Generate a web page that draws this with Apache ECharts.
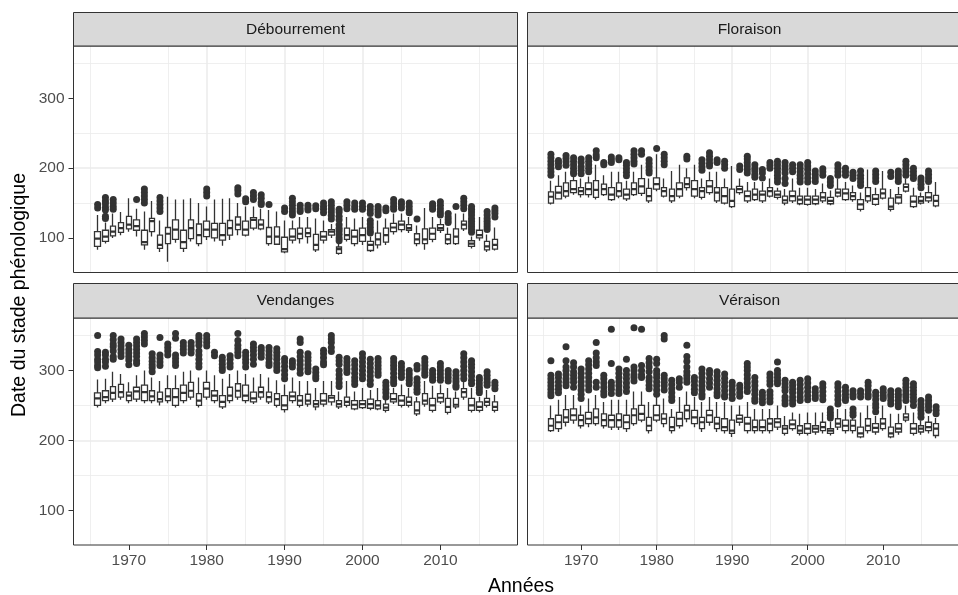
<!DOCTYPE html>
<html lang="fr">
<head>
<meta charset="UTF-8">
<title>Stades phénologiques</title>
<script src="https://cdn.jsdelivr.net/npm/echarts@6/dist/echarts.min.js"></script>
<style>
  * { margin: 0; padding: 0 }
  html, body { width: 100%; height: 100%; background: #fff; }
  #main { width: 958px; height: 595px; }
</style>
</head>
<body>
<div id="main"></div>
<script type="text/javascript">
// années
var years = [1966, 1967, 1968, 1969, 1970, 1971, 1972, 1973, 1974, 1975, 1976, 1977, 1978,
  1979, 1980, 1981, 1982, 1983, 1984, 1985, 1986, 1987, 1988, 1989, 1990, 1991, 1992, 1993,
  1994, 1995, 1996, 1997, 1998, 1999, 2000, 2001, 2002, 2003, 2004, 2005, 2006, 2007, 2008,
  2009, 2010, 2011, 2012, 2013, 2014, 2015, 2016, 2017];

// [moustache basse, Q1, médiane, Q3, moustache haute] par année
var debourrement = [
  [83, 88, 99, 109, 133], [92, 95, 102, 111, 122], [100, 103, 109, 117, 135], [104, 108, 114, 122, 137],
  [109, 113, 119, 131, 157], [102, 111, 117, 126, 142], [83, 90, 94, 111, 138], [102, 109, 124, 128, 153],
  [80, 85, 90, 104, 125], [66, 92, 106, 115, 159], [93, 98, 112, 126, 155], [80, 85, 94, 111, 155],
  [95, 99, 114, 126, 157], [88, 92, 104, 120, 150], [97, 102, 112, 124, 145], [95, 100, 112, 121, 155],
  [89, 97, 104, 121, 156], [97, 104, 114, 125, 157], [104, 112, 119, 130, 150], [102, 104, 112, 124, 145],
  [111, 114, 126, 129, 145], [111, 113, 119, 126, 142], [89, 92, 102, 115, 140], [90, 91, 102, 116, 138],
  [78, 80, 84, 101, 125], [92, 97, 102, 113, 125], [92, 99, 106, 114, 130], [92, 102, 107, 114, 130],
  [80, 83, 90, 105, 128], [92, 97, 102, 109, 125], [100, 104, 109, 112, 120], [76, 78, 84, 87, 92],
  [95, 98, 104, 114, 130], [88, 92, 102, 111, 128], [90, 95, 104, 114, 130], [80, 82, 90, 95, 102],
  [85, 90, 98, 107, 125], [90, 94, 104, 114, 128], [105, 109, 115, 121, 135], [108, 112, 119, 124, 135],
  [107, 111, 114, 119, 130], [88, 92, 98, 106, 118], [83, 92, 98, 113, 143], [94, 98, 106, 114, 130],
  [107, 111, 114, 119, 127], [90, 92, 98, 105, 115], [90, 92, 102, 113, 135], [110, 113, 119, 124, 135],
  [85, 88, 92, 96, 102], [96, 100, 104, 111, 130], [80, 83, 88, 95, 105], [82, 84, 90, 98, 115]
];
var debourrementOut = [
  [143, 148], [158, 153, 149, 144, 140, 131, 128], [155, 150, 145, 141], [],
  [], [155], [170, 165, 160, 155, 150], [],
  [158, 153, 148, 143, 138], [], [], [],
  [], [], [170, 165, 160], [],
  [], [], [172, 168, 163], [156, 152],
  [165, 160, 155], [162, 157, 151, 148], [148], [],
  [143, 138], [157, 152, 147, 142, 137, 133], [147, 142, 138], [147, 143, 140],
  [146, 142], [150, 145, 141, 136], [152, 147, 142, 137, 132, 127], [141, 137, 131, 126, 119, 114, 110, 105, 100, 96],
  [152, 147, 142], [150, 145, 141], [150, 145, 141], [145, 140, 135, 125, 120, 115, 110, 107],
  [145, 141, 137, 133], [143, 139], [155, 150, 145, 141], [152, 148, 143],
  [150, 145, 140, 136], [127], [], [149, 145, 141],
  [152, 147, 142, 137, 133], [135, 130, 126, 122], [145], [157, 152, 147, 142],
  [145, 141, 137, 133, 128, 124, 120, 116, 112, 108], [], [138, 133, 128, 124, 120, 116, 112], [143, 139, 135, 130]
];

var floraison = [
  [148, 150, 159, 166, 182], [155, 156, 165, 174, 190], [157, 160, 167, 179, 195], [162, 165, 170, 182, 188],
  [158, 162, 167, 172, 185], [158, 162, 170, 179, 188], [155, 158, 169, 182, 205], [160, 162, 170, 177, 190],
  [153, 155, 162, 172, 195], [157, 160, 167, 179, 195], [153, 156, 162, 170, 182], [160, 162, 170, 179, 195],
  [160, 164, 174, 185, 205], [150, 153, 160, 171, 185], [167, 170, 177, 186, 220], [158, 160, 167, 172, 185],
  [150, 153, 160, 170, 196], [157, 160, 170, 179, 205], [168, 172, 177, 186, 200], [157, 160, 170, 182, 205],
  [155, 158, 167, 172, 185], [162, 165, 174, 182, 195], [150, 153, 165, 172, 195], [148, 150, 160, 172, 185],
  [143, 145, 153, 170, 203], [162, 165, 170, 174, 185], [150, 153, 160, 167, 180], [153, 155, 162, 170, 180],
  [150, 153, 162, 167, 180], [158, 160, 167, 172, 185], [155, 158, 162, 167, 172], [147, 150, 154, 160, 170],
  [150, 153, 160, 167, 185], [147, 149, 155, 160, 172], [146, 148, 155, 160, 172], [147, 149, 155, 160, 170],
  [150, 153, 158, 165, 178], [147, 149, 153, 158, 168], [158, 160, 165, 170, 185], [153, 155, 164, 170, 180],
  [152, 155, 160, 165, 175], [138, 141, 148, 155, 165], [150, 153, 160, 172, 198], [146, 148, 156, 162, 172],
  [155, 157, 164, 170, 196], [138, 141, 145, 157, 170], [148, 150, 158, 162, 173], [165, 167, 173, 177, 185],
  [143, 145, 152, 160, 172], [148, 150, 153, 159, 165], [150, 153, 158, 165, 175], [144, 146, 153, 161, 180]
];
var floraisonOut = [
  [220, 215, 210, 205, 200, 195, 190], [211, 207, 202], [218, 214, 209, 204], [215, 210, 205, 200, 195, 192],
  [213, 208, 202, 197, 192], [215, 210, 205, 200, 195], [225, 219, 215], [208, 205],
  [216, 212, 208], [215, 212], [208, 204, 199, 194, 189], [225, 220, 215, 210, 206],
  [225, 220], [212, 207, 202, 197, 193], [228], [220, 215, 210, 205],
  [], [], [217, 213], [],
  [212, 207, 202, 197], [222, 217, 212, 207, 203], [212, 208], [210, 205, 200],
  [], [203, 198], [217, 213, 208, 203, 198, 193], [205, 200, 196, 191, 187],
  [198, 193, 186], [208, 204, 200], [210, 205, 200, 195, 190, 185, 180], [208, 203, 198, 193, 185, 178],
  [205, 200, 195], [205, 200, 195, 190, 185, 180], [208, 203, 198, 192, 186, 180], [196, 191, 186, 181],
  [199, 195, 190], [185, 180, 175], [205, 200, 195, 190], [200, 195, 190],
  [194, 190, 185], [196, 190, 185, 180, 175], [], [196, 191, 186, 181],
  [], [194, 188], [196, 191, 186, 181], [210, 205, 200, 195, 190],
  [200, 195, 190, 185], [186, 182, 177, 172], [196, 191, 186, 181], []
];

var vendanges = [
  [247, 250, 260, 268, 287], [253, 257, 262, 271, 288], [255, 259, 268, 277, 298], [258, 262, 269, 280, 295],
  [253, 257, 264, 269, 283], [255, 259, 270, 276, 293], [253, 257, 269, 279, 300], [253, 257, 263, 271, 290],
  [250, 255, 259, 269, 285], [253, 257, 263, 274, 293], [247, 250, 262, 274, 293], [253, 257, 268, 279, 298],
  [258, 262, 271, 283, 300], [247, 250, 257, 267, 290], [258, 262, 274, 283, 300], [253, 257, 264, 271, 293],
  [245, 248, 255, 264, 288], [253, 257, 264, 276, 295], [258, 262, 271, 281, 300], [253, 257, 264, 279, 295],
  [252, 255, 260, 269, 290], [258, 262, 269, 276, 295], [252, 255, 262, 269, 290], [247, 250, 259, 267, 286],
  [240, 244, 250, 264, 280], [253, 257, 263, 269, 290], [247, 250, 257, 264, 285], [248, 252, 257, 266, 285],
  [243, 248, 252, 257, 275], [248, 252, 257, 267, 285], [250, 255, 261, 264, 285], [245, 248, 252, 257, 270],
  [247, 250, 255, 262, 285], [243, 245, 251, 257, 270], [245, 247, 252, 257, 275], [243, 246, 252, 259, 272],
  [243, 245, 250, 257, 275], [240, 243, 247, 252, 258], [252, 255, 259, 267, 275], [247, 250, 257, 264, 280],
  [247, 250, 255, 262, 275], [235, 238, 243, 255, 262], [248, 252, 257, 267, 285], [240, 243, 250, 260, 278],
  [252, 255, 261, 267, 280], [237, 240, 248, 260, 275], [245, 248, 251, 260, 270], [258, 262, 269, 274, 285],
  [240, 243, 250, 260, 275], [240, 243, 248, 255, 262], [247, 250, 255, 260, 272], [240, 243, 248, 255, 265]
];
var vendangesOut = [
  [350, 327, 322, 316, 312, 307, 304], [326, 322, 316, 312, 306], [350, 344, 338, 334, 328, 320, 316], [345, 340, 335, 330, 325, 320],
  [336, 330, 325, 320, 315, 308], [345, 340, 335, 330, 325, 320, 314, 310], [353, 348, 343, 338], [324, 318, 313, 308, 304, 298],
  [347, 322, 317, 312, 307], [338, 333, 328, 322], [353, 346, 322, 317, 312, 307], [340, 335, 330, 325],
  [340, 335, 330, 325], [350, 346, 341, 336, 328, 322, 316, 310, 305], [350, 345, 340, 335], [326, 321],
  [319, 314, 309, 304, 300], [321, 316, 310, 305], [353, 343, 336, 331, 326, 321], [326, 321, 316, 311, 305],
  [338, 333, 328, 322, 316, 309], [333, 329, 324, 319], [333, 328, 322, 317, 311, 307], [331, 326, 321, 316, 310, 305, 300],
  [317, 312, 306, 300, 294, 288], [314, 310, 305], [345, 340, 326, 320, 314, 308, 302, 296], [324, 319, 314, 308, 303, 298],
  [302, 297, 292, 288], [329, 324, 318, 312, 308], [350, 345, 340, 333, 327], [319, 314, 309, 300, 294, 288, 282, 277],
  [317, 312, 307, 302, 297], [314, 308, 302, 296, 290, 285, 280], [324, 318, 312, 306, 300, 294, 288], [316, 310, 304, 298, 292, 286, 280],
  [317, 312, 307, 302, 297, 293], [283, 278, 273, 268, 262], [317, 312, 307, 302, 296, 290, 285, 281], [310, 305, 300, 295, 290],
  [300, 295, 290, 286, 281], [307, 302, 288, 283, 278, 273, 269], [317, 312, 307, 302, 297, 293], [300, 295, 290, 286],
  [310, 305, 300, 295, 290, 286], [300, 295, 290, 285], [298, 293, 288, 284, 279, 276], [324, 318, 312, 306, 300, 294, 288],
  [314, 309, 304, 298, 292, 286, 281], [290, 286, 281, 276, 272, 268], [298, 293, 288, 283, 279], [283, 279, 274]
];

var veraison = [
  [212, 214, 221, 231, 250], [212, 217, 226, 236, 258], [220, 226, 233, 244, 265], [224, 229, 236, 245, 265],
  [217, 221, 229, 236, 250], [219, 224, 231, 240, 260], [221, 224, 233, 245, 265], [217, 221, 229, 238, 255],
  [215, 219, 229, 236, 258], [215, 219, 229, 238, 258], [212, 217, 226, 236, 258], [221, 224, 236, 245, 270],
  [226, 229, 238, 250, 270], [210, 214, 221, 233, 255], [226, 229, 236, 250, 262], [219, 224, 231, 238, 260],
  [210, 214, 219, 233, 245], [217, 221, 231, 240, 262], [226, 231, 243, 250, 270], [219, 224, 233, 243, 262],
  [212, 217, 226, 233, 255], [221, 226, 236, 243, 262], [212, 217, 224, 233, 255], [210, 214, 219, 231, 255],
  [205, 210, 214, 229, 250], [221, 226, 231, 236, 250], [210, 214, 224, 233, 255], [210, 214, 219, 229, 245],
  [210, 214, 219, 229, 245], [210, 214, 224, 231, 245], [215, 219, 226, 231, 250], [207, 210, 217, 221, 235],
  [214, 217, 223, 229, 240], [207, 210, 214, 221, 238], [207, 210, 217, 224, 240], [208, 212, 217, 221, 240],
  [210, 214, 219, 226, 240], [207, 210, 214, 217, 227], [215, 219, 224, 231, 245], [210, 214, 221, 229, 245],
  [210, 214, 221, 229, 232], [203, 205, 210, 219, 240], [210, 214, 221, 231, 250], [208, 212, 218, 224, 235],
  [214, 217, 224, 231, 250], [203, 205, 210, 219, 238], [208, 212, 217, 224, 238], [226, 229, 233, 238, 250],
  [207, 210, 217, 224, 240], [208, 212, 217, 221, 229], [210, 214, 219, 226, 235], [203, 207, 217, 224, 232]
];
var veraisonOut = [
  [314, 293, 288, 283, 278, 273, 268, 264], [295, 290, 284, 278, 273, 268], [334, 314, 305, 300, 294, 288, 283, 278], [311, 305, 298, 293, 288, 283, 276],
  [302, 296, 290, 284, 278, 272, 266, 260], [314, 308, 302, 296, 290, 284, 278, 272], [340, 325, 318, 312, 307, 283, 276], [293, 288, 282, 276, 270, 265],
  [359, 310, 283, 278, 273, 267], [302, 296, 290, 284, 278, 272, 267], [316, 300, 294, 288, 282, 276, 270], [361, 305, 300, 294, 290, 285],
  [359, 307, 300, 294, 290], [317, 311, 305, 298, 290, 285, 279, 274], [316, 310, 300, 295, 290, 284, 278, 272, 266], [350, 345, 293, 288, 283, 278, 272],
  [286, 280, 274, 268, 262, 257], [288, 283, 276], [336, 320, 313, 305, 298, 293, 288, 283], [290, 285, 279, 273, 268],
  [302, 296, 290, 284, 278, 272, 266, 262], [300, 295, 288, 282, 276], [298, 292, 286, 280, 274, 268, 264], [295, 289, 283, 277, 271, 265, 262],
  [283, 278, 272, 266, 260], [279, 274, 268, 263], [310, 305, 300, 294, 288, 282, 276, 270], [290, 284, 278, 272, 266, 260, 256],
  [269, 264, 259, 254], [295, 290, 285, 280, 270, 265, 260, 255], [312, 300, 295, 290, 285, 281], [286, 281, 276, 271, 262, 257, 252],
  [283, 278, 273, 268, 262, 257, 252], [286, 280, 274, 268, 262, 257], [288, 282, 276, 270, 264, 258], [274, 269, 264, 260],
  [281, 276, 270, 264, 258], [245, 240, 236, 232], [281, 276, 270, 264, 258, 252], [276, 271, 266, 261, 257],
  [271, 266, 262, 245, 240, 236], [271, 267, 262], [283, 278, 272, 266, 262], [269, 264, 258, 252, 247, 241],
  [274, 269, 264, 260], [271, 266, 262, 257, 252], [271, 266, 262, 257, 252, 248], [286, 281, 276, 271, 266, 262, 257],
  [281, 276, 271, 266, 261, 256, 250], [257, 252, 247, 243, 238, 233], [262, 257, 252, 248, 243], [248, 243, 238]
];

var stades = ['Débourrement', 'Floraison', 'Vendanges', 'Véraison'];
var boxes = [debourrement, floraison, vendanges, veraison];
var outliers = [debourrementOut, floraisonOut, vendangesOut, veraisonOut];

var xTicks = [1970, 1980, 1990, 2000, 2010];
var yTicks = [100, 200, 300];

var myChart = echarts.init(document.getElementById('main'), null, { renderer: 'canvas' });

// mise en page des facettes
var panels = [
  { left: 73.5, top: 46, width: 444, height: 226.5, stripTop: 12.5, bottom: false, leftSide: true },
  { left: 527.5, top: 46, width: 444, height: 226.5, stripTop: 12.5, bottom: false, leftSide: false },
  { left: 73.5, top: 318, width: 444, height: 227, stripTop: 283.5, bottom: true, leftSide: true },
  { left: 527.5, top: 318, width: 444, height: 227, stripTop: 283.5, bottom: true, leftSide: false }
];

var grid = [], xAxis = [], yAxis = [], series = [], graphic = [];
var gridColor = '#ebebeb';
var ink = '#333333';

panels.forEach(function (p, i) {
  grid.push({ left: p.left, top: p.top, width: p.width, height: p.height, show: false });

  xAxis.push({
    gridIndex: i, type: 'value', min: 1962.9, max: 2019.9,
    axisLine: { show: false },
    axisTick: { show: p.bottom, length: 5, customValues: xTicks, lineStyle: { color: ink, width: 1 } },
    axisLabel: { show: p.bottom, customValues: xTicks, color: '#4d4d4d', fontSize: 15.5, margin: 8,
      fontFamily: 'Liberation Sans, Arial, sans-serif', formatter: function (v) { return String(v); } },
    splitLine: { show: true, showMinLine: false, showMaxLine: false, lineStyle: { color: gridColor, width: 1.5 } }
  });
  yAxis.push({
    gridIndex: i, type: 'value', min: 50.5, max: 375, splitNumber: 3,
    axisLine: { show: false },
    axisTick: { show: p.leftSide, length: 5, customValues: yTicks, lineStyle: { color: ink, width: 1 } },
    axisLabel: { show: p.leftSide, customValues: yTicks, color: '#4d4d4d', fontSize: 15.5, margin: 9,
      fontFamily: 'Liberation Sans, Arial, sans-serif' },
    splitLine: { show: true, showMinLine: false, showMaxLine: false, lineStyle: { color: gridColor, width: 1.5 } }
  });

  var b = boxes[i];
  var boxData = years.map(function (y, j) { return [y, b[j][1], b[j][3], b[j][0], b[j][4]]; });
  var medData = years.map(function (y, j) { return [y, b[j][2], b[j][2], b[j][2], b[j][2]]; });
  var outData = [];
  years.forEach(function (y, j) {
    outliers[i][j].forEach(function (v) { outData.push([y, v]); });
  });

  var boxStyle = {
    color: '#ffffff', color0: '#ffffff',
    borderColor: ink, borderColor0: ink, borderColorDoji: ink, borderWidth: 1.3
  };
  series.push({
    type: 'candlestick', name: stades[i], xAxisIndex: i, yAxisIndex: i,
    barWidth: 6, data: boxData, itemStyle: boxStyle, silent: true, z: 2,
    markLine: {
      silent: true, symbol: 'none', z: 1, animation: false,
      label: { show: false },
      lineStyle: { color: gridColor, width: 0.8, type: 'solid' },
      data: [{ xAxis: 1965 }, { xAxis: 1975 }, { xAxis: 1985 }, { xAxis: 1995 }, { xAxis: 2005 }, { xAxis: 2015 },
        { yAxis: 150 }, { yAxis: 250 }, { yAxis: 350 }]
    }
  });
  series.push({
    type: 'candlestick', xAxisIndex: i, yAxisIndex: i,
    barWidth: 6, data: medData, silent: true, z: 3,
    itemStyle: { color: ink, color0: ink, borderColor: ink, borderColor0: ink, borderColorDoji: ink, borderWidth: 2.2 }
  });
  series.push({
    type: 'scatter', xAxisIndex: i, yAxisIndex: i, data: outData, silent: true, z: 4,
    symbol: 'circle', symbolSize: 7, itemStyle: { color: ink, opacity: 1 }
  });

  // bordure du panneau
  graphic.push({
    type: 'rect', z: 100, silent: true,
    shape: { x: p.left, y: p.top, width: p.width, height: p.height },
    style: { fill: 'none', stroke: ink, lineWidth: 1 }
  });
  // bandeau
  graphic.push({
    type: 'rect', z: 100, silent: true,
    shape: { x: p.left, y: p.stripTop, width: p.width, height: p.top - p.stripTop },
    style: { fill: '#d9d9d9', stroke: ink, lineWidth: 1 }
  });
  graphic.push({
    type: 'text', z: 101, silent: true,
    x: p.left + p.width / 2, y: (p.stripTop + p.top) / 2,
    style: { text: stades[i], fill: '#1a1a1a', font: '15.5px "Liberation Sans", Arial, sans-serif',
      textAlign: 'center', textVerticalAlign: 'middle', align: 'center', verticalAlign: 'middle' }
  });
});

// titres des axes
graphic.push({
  type: 'text', z: 101, silent: true, x: 521, y: 587,
  style: { text: 'Années', fill: '#000', font: '19.5px "Liberation Sans", Arial, sans-serif',
    textAlign: 'center', textVerticalAlign: 'middle', align: 'center', verticalAlign: 'middle' }
});
graphic.push({
  type: 'text', z: 101, silent: true, x: 20, y: 295, rotation: Math.PI / 2,
  style: { text: 'Date du stade phénologique', fill: '#000', font: '19.5px "Liberation Sans", Arial, sans-serif',
    textAlign: 'center', textVerticalAlign: 'middle', align: 'center', verticalAlign: 'middle' }
});

var option = {
  animation: false,
  backgroundColor: '#ffffff',
  grid: grid,
  xAxis: xAxis,
  yAxis: yAxis,
  series: series,
  graphic: graphic
};
myChart.setOption(option);
</script>
</body>
</html>
